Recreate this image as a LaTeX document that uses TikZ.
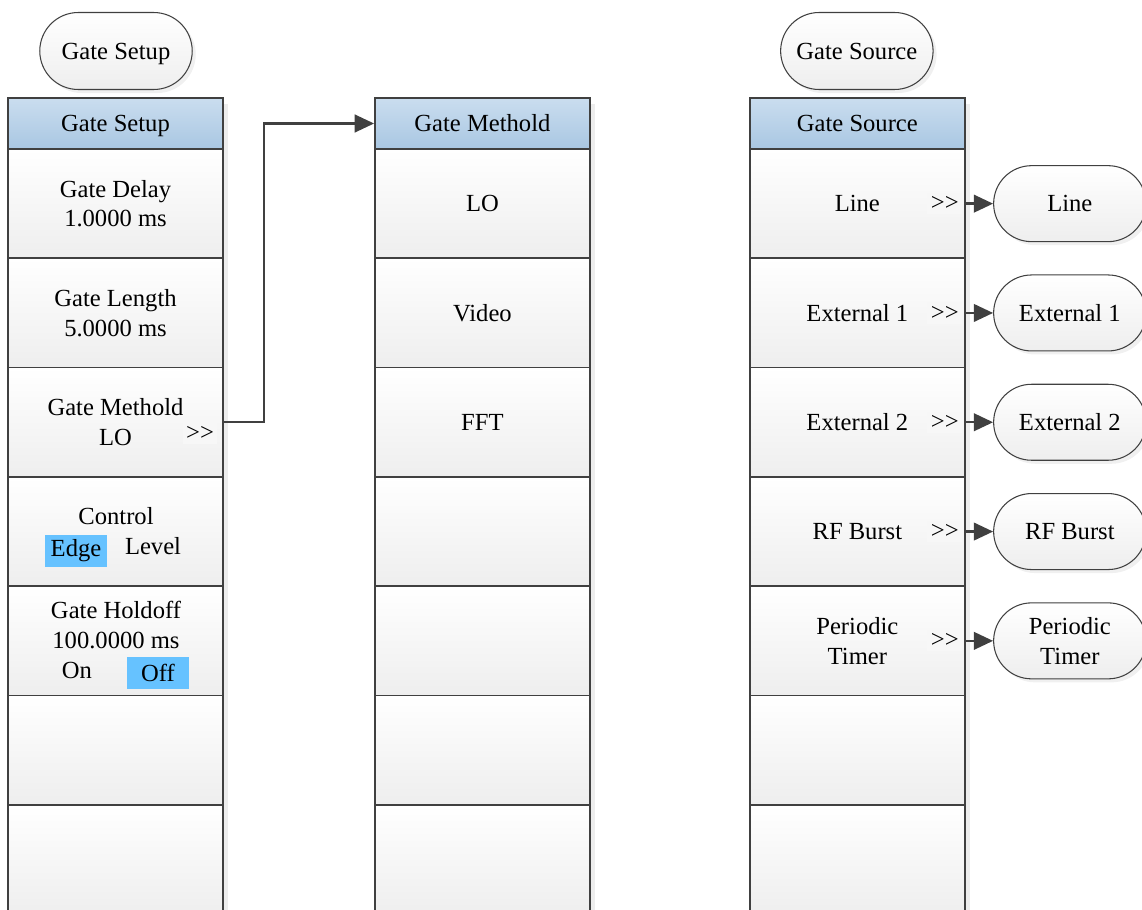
\documentclass[tikz,border=0pt]{standalone}
\usepackage{fontspec}
\setmainfont{Liberation Serif}
\usetikzlibrary{positioning,arrows.meta,shapes.misc,shadows}
\definecolor{gsborder}{HTML}{404040}
\definecolor{gsheadtop}{HTML}{CADDEF}
\definecolor{gsheadbot}{HTML}{A9C7E2}
\definecolor{gshigh}{HTML}{66C2FF}
\definecolor{gscell}{HTML}{EEEEEE}
\definecolor{gsshade}{HTML}{EDEDED}
\tikzset{
  menucell/.style={draw=gsborder,line width=1pt,top color=white,bottom color=gscell,
                   minimum width=4.3cm,minimum height=2.186cm,align=center,inner sep=0pt},
  menuhead/.style={menucell,top color=gsheadtop,bottom color=gsheadbot,minimum height=1.02cm},
  term/.style={rounded rectangle,draw=gsborder,line width=0.6pt,top color=white,bottom color=gscell,
               minimum width=3.12cm,minimum height=1.54cm,align=center,inner sep=1pt,
               drop shadow={shadow xshift=2pt,shadow yshift=-2pt,opacity=0.12}},
  more/.style={fill=black!3,inner sep=2pt},
  hl/.style={fill=gshigh,minimum width=1.24cm,minimum height=0.64cm,inner sep=0pt},
  arr/.style={draw=gsborder,line width=1.4pt,-{Triangle[length=11pt,width=10pt]}}
}

\begin{document}
\begin{tikzpicture}[x=0.02cm,y=-0.02cm,font=\fontsize{14}{17}\selectfont]
  \useasboundingbox (0,0) rectangle (1142,909);
  % left menu: gate setup
  \begin{scope}[xshift=0.16cm]
    \fill[gsshade] (5,104) rectangle (220,915);
    \node[term,text depth=0pt] (setupkey) at (108,51) {Gate Setup};
    \node[menuhead,text depth=0pt] (setup0) at (107.5,123.5) {Gate Setup};
    \foreach \i/\txt in {1/{Gate Delay\\1.0000 ms},2/{Gate Length\\5.0000 ms},
                         3/{Gate Methold\\LO},4/{},5/{},6/{},7/{}}
      \node[menucell] (setup\i) at (107.5,{94.35+109.3*\i}) {\txt};
    \node[more] (setupmore) at (192,433) {>{}>};
    \node (ctrl) at (108,516) {Control};
    \node[hl] (edge) at (68,551) {Edge};
    \node (level) at (145,546) {Level};
    \node[align=center] (hold) at (108,625) {Gate Holdoff\\100.0000 ms};
    \node (on) at (69,670) {On};
    \node[hl] (off) at (150,673) {Off};
  \end{scope}
  % middle menu: gate methold
  \begin{scope}[xshift=7.5cm]
    \fill[gsshade] (5,104) rectangle (220,915);
    \node[menuhead] (methold0) at (107.5,123.5) {Gate Methold};
    \foreach \i/\txt in {1/LO,2/Video,3/FFT,4/{},5/{},6/{},7/{}}
      \node[menucell] (methold\i) at (107.5,{94.35+109.3*\i}) {\txt};
  \end{scope}
  % right menu: gate source
  \begin{scope}[xshift=15cm]
    \fill[gsshade] (5,104) rectangle (220,915);
    \node[term] (sourcekey) at (107,51) {Gate Source};
    \node[menuhead] (source0) at (107.5,123.5) {Gate Source};
    \foreach \i/\txt in {1/Line,2/External 1,3/External 2,4/RF Burst,
                         5/{Periodic\\Timer},6/{},7/{}}
      \node[menucell] (source\i) at (107.5,{94.35+109.3*\i}) {\txt};
    \foreach \i/\txt in {1/Line,2/External 1,3/External 2,4/RF Burst,5/{Periodic\\Timer}}{
      \node[more] (sourcemore\i) at (195,{94.35+109.3*\i}) {>{}>};
      \node[term,minimum height=1.52cm] (sourceterm\i) at (320,{94.35+109.3*\i}) {\txt};
      \draw[arr] (source\i.east) -- (sourceterm\i.west);
    }
  \end{scope}
  \draw[arr] (setup3.east) -- ++(40,0) |- (methold0.west);
\end{tikzpicture}
\end{document}
